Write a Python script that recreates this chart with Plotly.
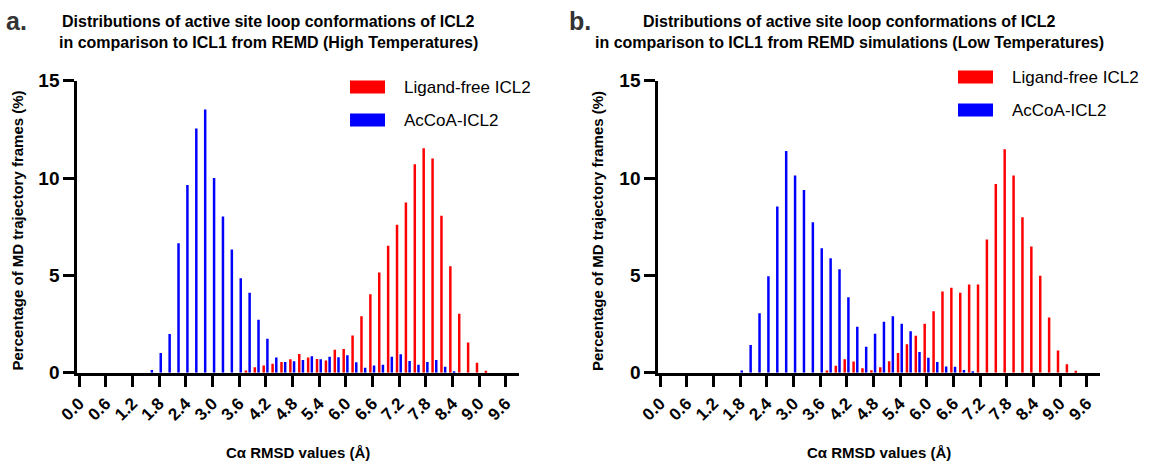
import plotly.graph_objects as go

# RMSD bin centres (Å) and percentage of frames, high-temperature replicas
hi_acoa_bins = [1.6, 1.8, 2.0, 2.2, 2.4, 2.6, 2.8, 3.0, 3.2, 3.4, 3.6, 3.8, 4.0, 4.2,
                4.4, 4.6, 4.8, 5.0, 5.2, 5.4, 5.6, 5.8, 6.0, 6.2, 6.4, 6.6, 6.8, 7.0,
                7.2, 7.4, 7.6, 7.8, 8.0, 8.2, 8.4]
hi_acoa_pct = [0.15, 1.02, 1.99, 6.65, 9.64, 12.55, 13.52, 10.0, 8.03, 6.33, 4.85, 4.11,
               2.72, 1.75, 0.78, 0.56, 0.59, 0.66, 0.85, 0.69, 0.82, 0.80, 0.90, 0.54,
               0.26, 0.37, 0.41, 0.83, 0.95, 0.61, 0.41, 0.56, 0.66, 0.31, 0.08]

hi_free_bins = [3.8, 4.0, 4.2, 4.4, 4.6, 4.8, 5.0, 5.2, 5.4, 5.6, 5.8, 6.0, 6.2, 6.4,
                6.6, 6.8, 7.0, 7.2, 7.4, 7.6, 7.8, 8.0, 8.2, 8.4, 8.6, 8.8, 9.0, 9.2]
hi_free_pct = [0.12, 0.29, 0.37, 0.46, 0.56, 0.69, 0.97, 0.78, 0.71, 0.63, 1.19, 1.22,
               1.92, 2.91, 4.03, 5.15, 6.53, 7.60, 8.74, 10.71, 11.53, 11.0, 8.06, 5.47,
               3.03, 1.55, 0.51, 0.1]

# Low-temperature replicas
lo_acoa_bins = [1.8, 2.0, 2.2, 2.4, 2.6, 2.8, 3.0, 3.2, 3.4, 3.6, 3.8, 4.0, 4.2, 4.4,
                4.6, 4.8, 5.0, 5.2, 5.4, 5.6, 5.8, 6.0, 6.2, 6.4, 6.6, 6.8, 7.0]
lo_acoa_pct = [0.12, 1.43, 3.06, 4.96, 8.54, 11.39, 10.13, 9.39, 7.73, 6.39, 5.88, 5.32,
               3.88, 2.36, 1.34, 2.01, 2.62, 2.91, 2.52, 2.13, 1.07, 0.77, 0.56, 0.32,
               0.31, 0.15, 0.08]

lo_free_bins = [3.8, 4.0, 4.2, 4.4, 4.6, 4.8, 5.0, 5.2, 5.4, 5.6, 5.8, 6.0, 6.2, 6.4,
                6.6, 6.8, 7.0, 7.2, 7.4, 7.6, 7.8, 8.0, 8.2, 8.4, 8.6, 8.8, 9.0, 9.2, 9.4]
lo_free_pct = [0.12, 0.36, 0.69, 0.58, 0.23, 0.13, 0.29, 0.59, 1.02, 1.46, 1.90, 2.52,
               3.16, 4.18, 4.37, 4.11, 4.54, 4.54, 6.84, 9.69, 11.48, 10.13, 7.99, 6.49,
               4.98, 2.84, 1.15, 0.44, 0.1]

x_tick_vals = [0.0, 0.6, 1.2, 1.8, 2.4, 3.0, 3.6, 4.2, 4.8, 5.4, 6.0, 6.6, 7.2, 7.8,
               8.4, 9.0, 9.6]
x_tick_text = ["0.0", "0.6", "1.2", "1.8", "2.4", "3.0", "3.6", "4.2", "4.8", "5.4",
               "6.0", "6.6", "7.2", "7.8", "8.4", "9.0", "9.6"]
y_tick_vals = [0, 5, 10, 15]

series_names = ["Ligand-free ICL2", "AcCoA-ICL2"]
RED = "#FF0000"
BLUE = "#0000FF"
FONT = "Liberation Sans, Arial, Helvetica, sans-serif"

W, H = 1162, 466
BAR_W = 0.056


def px(x):
    return x / W


def py(y):
    return 1 - y / H


fig = go.Figure()

panels = [
    ("x", "y", hi_free_bins, hi_free_pct, hi_acoa_bins, hi_acoa_pct),
    ("x2", "y2", lo_free_bins, lo_free_pct, lo_acoa_bins, lo_acoa_pct),
]
for xa, ya, fb, fv, ab, av in panels:
    fig.add_trace(go.Bar(x=fb, y=fv, width=BAR_W, offset=-0.073,
                         marker=dict(color=RED, line=dict(width=0)),
                         name=series_names[0], xaxis=xa, yaxis=ya, showlegend=False))
    fig.add_trace(go.Bar(x=ab, y=av, width=BAR_W, offset=0.010,
                         marker=dict(color=BLUE, line=dict(width=0)),
                         name=series_names[1], xaxis=xa, yaxis=ya, showlegend=False))

axis_common = dict(showline=True, linecolor="black", linewidth=3, ticks="outside",
                   ticklen=11, tickwidth=3, tickcolor="black", showgrid=False,
                   zeroline=False, automargin=False)
xaxis_style = dict(axis_common, tickmode="array", tickvals=x_tick_vals,
                   ticktext=x_tick_text, tickangle=-45, range=[-0.04, 9.9],
                   tickfont=dict(family=FONT, size=17, color="black", weight="bold"))
yaxis_style = dict(axis_common, tickmode="array", tickvals=y_tick_vals, range=[0, 15],
                   tickfont=dict(family=FONT, size=19, color="black", weight="bold"),
                   domain=[py(372.8), py(80.7)])

fig.update_layout(
    width=W, height=H,
    margin=dict(l=0, r=0, t=0, b=0, pad=0, autoexpand=False),
    paper_bgcolor="white", plot_bgcolor="white",
    barmode="overlay",
    showlegend=False,
    xaxis=dict(xaxis_style, domain=[px(77.3), px(519)], anchor="y"),
    yaxis=dict(yaxis_style, anchor="x"),
    xaxis2=dict(xaxis_style, domain=[px(658.3), px(1100)], anchor="y2"),
    yaxis2=dict(yaxis_style, anchor="x2"),
)

annotations = []
shapes = []


def text(x, y, s, size, bold=True, color="black", angle=0, xanchor="center"):
    annotations.append(dict(
        x=px(x), y=py(y), xref="paper", yref="paper", text=s, showarrow=False,
        xanchor=xanchor, yanchor="middle", textangle=angle,
        font=dict(family=FONT, size=size, color=color,
                  weight="bold" if bold else "normal")))


panel_text = [
    dict(letter="a.", lx=16, title_x=268,
         lines=["Distributions of active site loop conformations of ICL2",
                "in comparison to ICL1 from REMD (High Temperatures)"],
         ytitle_x=16.5, xtitle_x=298, leg_x=350, leg_y=(87, 120)),
    dict(letter="b.", lx=580, title_x=849,
         lines=["Distributions of active site loop conformations of ICL2",
                "in comparison to ICL1 from REMD simulations (Low Temperatures)"],
         ytitle_x=597, xtitle_x=879, leg_x=958, leg_y=(77, 110)),
]

for p in panel_text:
    text(p["lx"], 21, p["letter"], 25, color="#333333")
    text(p["title_x"], 21, p["lines"][0], 16)
    text(p["title_x"], 42, p["lines"][1], 16)
    text(p["ytitle_x"], 231, "Percentage of MD trajectory frames (%)", 15, angle=-90)
    text(p["xtitle_x"], 452, "C\u03b1 RMSD values (\u00c5)", 15)
    for name, color, yc in zip(series_names, (RED, BLUE), p["leg_y"]):
        shapes.append(dict(type="rect", xref="paper", yref="paper",
                           x0=px(p["leg_x"]), x1=px(p["leg_x"] + 35),
                           y0=py(yc + 6.5), y1=py(yc - 6.5),
                           fillcolor=color, line=dict(width=0)))
        text(p["leg_x"] + 52, yc, name, 17, bold=False, xanchor="left")

fig.update_layout(annotations=annotations, shapes=shapes)

fig.write_html("out.html")
